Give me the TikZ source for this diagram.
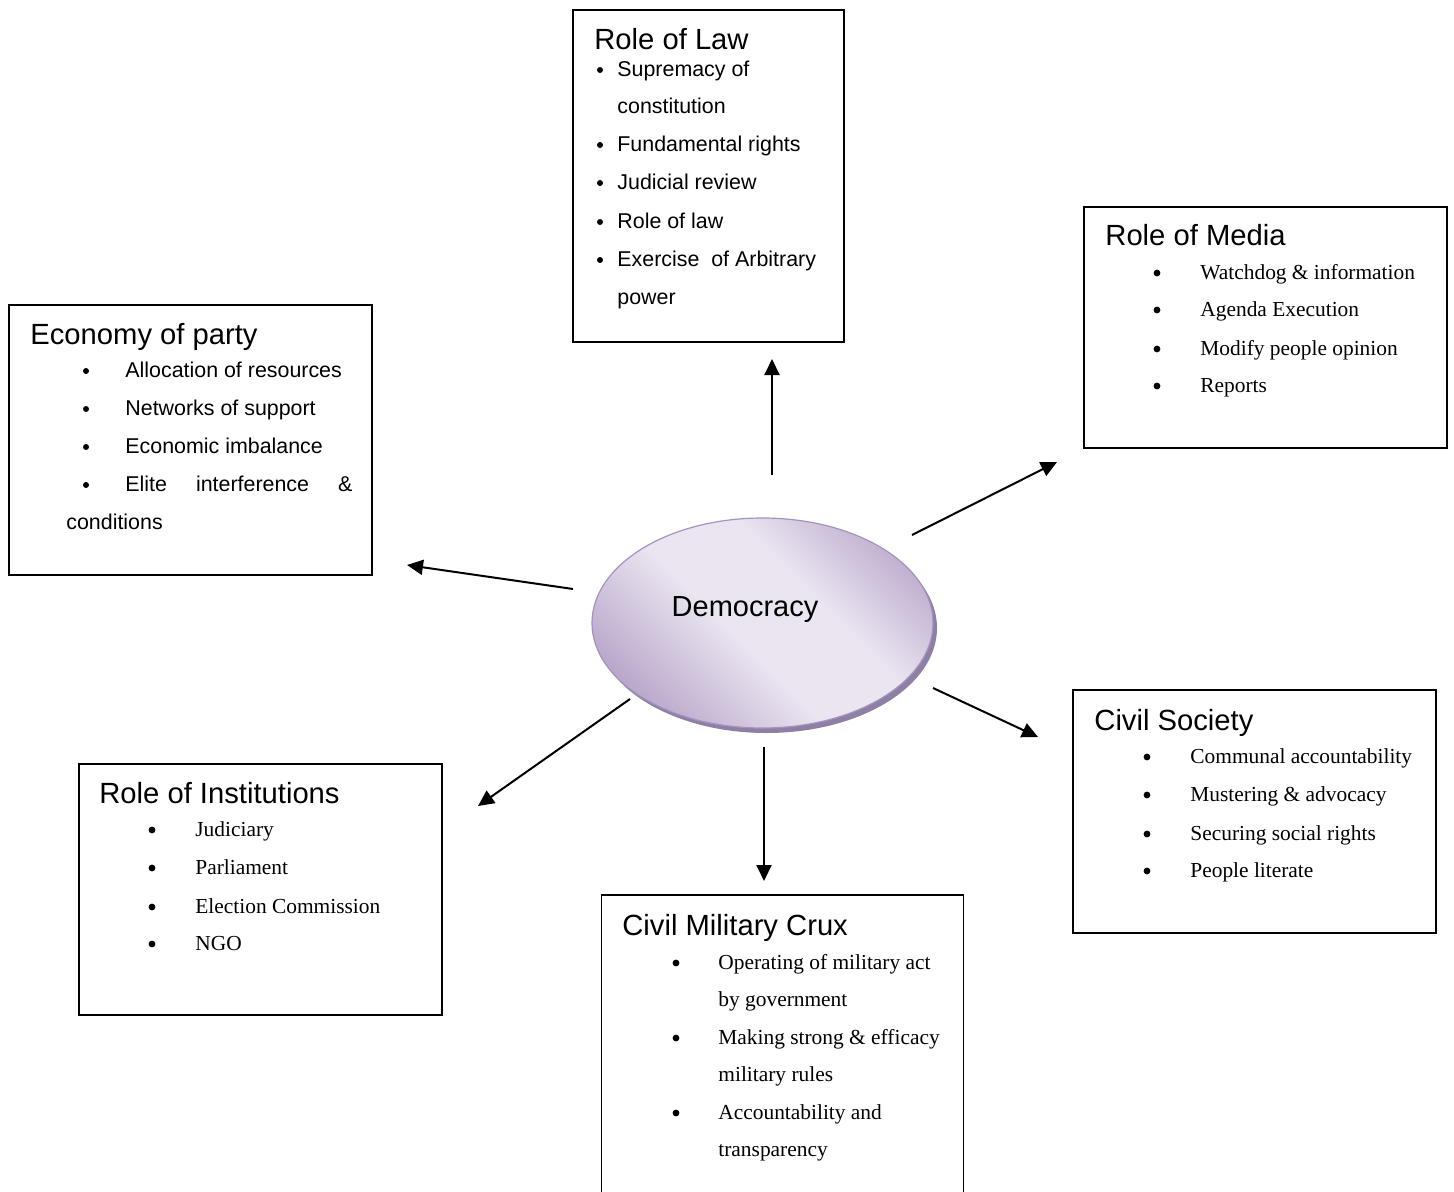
\documentclass[tikz,border=0pt]{standalone}
\usepackage{fontspec}
\setmainfont{Liberation Serif}
\newfontfamily\arial{Liberation Sans}
\usetikzlibrary{shapes.geometric,arrows.meta,shadows}
\definecolor{lavL}{HTML}{EAE5F0}
\definecolor{lavD}{HTML}{BBA9CC}
\definecolor{lavB}{HTML}{A393BF}
\definecolor{lavS}{HTML}{8E80A5}
\pgfdeclareverticalshading{lavshade}{100bp}{color(0bp)=(lavD); color(25bp)=(lavD); color(45bp)=(lavL); color(60bp)=(lavL); color(78bp)=(lavD); color(100bp)=(lavD)}
\tikzset{
  box/.style={draw, line width=0.9pt, inner sep=0pt},
  ttl/.style={anchor=west, inner sep=0pt, text height=10.4pt, text depth=0pt, font=\arial\fontsize{14.6pt}{17pt}\selectfont},
  itma/.style={anchor=west, inner sep=0pt, text height=7.6pt, text depth=0pt, font=\arial\fontsize{10.7pt}{13pt}\selectfont},
  itmt/.style={anchor=west, inner sep=0pt, text height=7.1pt, text depth=0pt, font=\fontsize{10.7pt}{13pt}\selectfont},
  bula/.style={circle, fill=black, inner sep=0pt, minimum size=3pt},
  bult/.style={circle, fill=black, inner sep=0pt, minimum size=3.4pt},
  arr/.style={line width=1pt, -{Triangle[length=8pt,width=7.5pt]}}
}
\begin{document}
\begin{tikzpicture}[x=0.5pt,y=-0.5pt]
\useasboundingbox (0,0) rectangle (1454,1192);
\clip (0,0) rectangle (1454,1192);

% central ellipse
\node[ellipse, minimum width=170.5pt, minimum height=105pt, draw=lavB, line width=0.6pt,
      shade, shading=lavshade, shading angle=-45,
      drop shadow={shadow xshift=2pt, shadow yshift=-2.5pt, fill=lavS, opacity=1}] (demo) at (762.5,623) {};
\node[inner sep=0pt, font=\arial\fontsize{14.5pt}{17pt}\selectfont] (demotxt) at (745,610) {Democracy};

% boxes
\node[box, minimum width=135.5pt, minimum height=166pt] (law) at (708.5,176) {};
\node[box, minimum width=181.5pt, minimum height=120.5pt] (media) at (1265.5,327.5) {};
\node[box, minimum width=181.5pt, minimum height=135pt] (econ) at (190.5,440) {};
\node[box, minimum width=181.5pt, minimum height=125.5pt] (inst) at (260.5,889.5) {};
\node[box, minimum width=181pt, minimum height=177.5pt] (mil) at (782.5,1072.5) {};
\node[box, minimum width=181.5pt, minimum height=121.5pt] (soc) at (1254.5,811.5) {};

% Role of Law
\node[ttl] (lawT) at (594,39) {Role of Law};
\node[bula] (lawB1) at (600,70) {};
\node[itma] (law1) at (617,69) {Supremacy of};
\node[itma] (law2) at (617,106) {constitution};
\node[bula] (lawB3) at (600,145) {};
\node[itma] (law3) at (617,144) {Fundamental rights};
\node[bula] (lawB4) at (600,183) {};
\node[itma] (law4) at (617,182) {Judicial review};
\node[bula] (lawB5) at (600,222) {};
\node[itma] (law5) at (617,221) {Role of law};
\node[bula] (lawB6) at (600,260) {};
\node[itma] (law6) at (617,259) {Exercise\ \ of Arbitrary};
\node[itma] (law7) at (617,297) {power};

% Role of Media
\node[ttl] (medT) at (1105,235) {Role of Media};
\node[bult] (medB1) at (1157,273) {};
\node[itmt] (med1) at (1200,272) {Watchdog \& information};
\node[bult] (medB2) at (1157,310) {};
\node[itmt] (med2) at (1200,309) {Agenda Execution};
\node[bult] (medB3) at (1157,349) {};
\node[itmt] (med3) at (1200,348) {Modify people opinion};
\node[bult] (medB4) at (1157,386) {};
\node[itmt] (med4) at (1200,385) {Reports};

% Economy of party
\node[ttl] (ecoT) at (30,334) {Economy of party};
\node[bula] (ecoB1) at (86,371) {};
\node[itma] (eco1) at (125,370) {Allocation of resources};
\node[bula] (ecoB2) at (86,409) {};
\node[itma] (eco2) at (125,408) {Networks of support};
\node[bula] (ecoB3) at (86,447) {};
\node[itma] (eco3) at (125,446) {Economic imbalance};
\node[bula] (ecoB4) at (86,485) {};
\node[itma] (eco4) at (125,484) {\makebox[113.5pt][s]{Elite interference \&}};
\node[itma] (eco5) at (66,522) {conditions};

% Role of Institutions
\node[ttl] (insT) at (99,793) {Role of Institutions};
\node[bult] (insB1) at (152,830) {};
\node[itmt] (ins1) at (195,829) {Judiciary};
\node[bult] (insB2) at (152,868) {};
\node[itmt] (ins2) at (195,867) {Parliament};
\node[bult] (insB3) at (152,907) {};
\node[itmt] (ins3) at (195,906) {Election Commission};
\node[bult] (insB4) at (152,944) {};
\node[itmt] (ins4) at (195,943) {NGO};

% Civil Society
\node[ttl] (socT) at (1094,720) {Civil Society};
\node[bult] (socB1) at (1147,757) {};
\node[itmt] (soc1) at (1190,756) {Communal accountability};
\node[bult] (socB2) at (1147,795) {};
\node[itmt] (soc2) at (1190,794) {Mustering \& advocacy};
\node[bult] (socB3) at (1147,834) {};
\node[itmt] (soc3) at (1190,833) {Securing social rights};
\node[bult] (socB4) at (1147,871) {};
\node[itmt] (soc4) at (1190,870) {People literate};

% Civil Military Crux
\node[ttl] (milT) at (622,925) {Civil Military Crux};
\node[bult] (milB1) at (676,963) {};
\node[itmt] (mil1) at (718,962) {Operating of military act};
\node[itmt] (mil2) at (718,999) {by government};
\node[bult] (milB3) at (676,1038) {};
\node[itmt] (mil3) at (718,1037) {Making strong \& efficacy};
\node[itmt] (mil4) at (718,1074) {military rules};
\node[bult] (milB5) at (676,1113) {};
\node[itmt] (mil5) at (718,1112) {Accountability and};
\node[itmt] (mil6) at (718,1149) {transparency};

% arrow end points
\coordinate (aLs) at (772,475);  \coordinate (aLe) at (772,359);
\coordinate (aMs) at (912,535);  \coordinate (aMe) at (1057,462);
\coordinate (aEs) at (573,589);  \coordinate (aEe) at (407,565);
\coordinate (aIs) at (630,699);  \coordinate (aIe) at (478,806);
\coordinate (aCs) at (764,747);  \coordinate (aCe) at (764,881);
\coordinate (aSs) at (933,688);  \coordinate (aSe) at (1038,737);

\draw[arr] (aLs) -- (aLe);
\draw[arr] (aMs) -- (aMe);
\draw[arr] (aEs) -- (aEe);
\draw[arr] (aIs) -- (aIe);
\draw[arr] (aCs) -- (aCe);
\draw[arr] (aSs) -- (aSe);
\end{tikzpicture}
\end{document}
